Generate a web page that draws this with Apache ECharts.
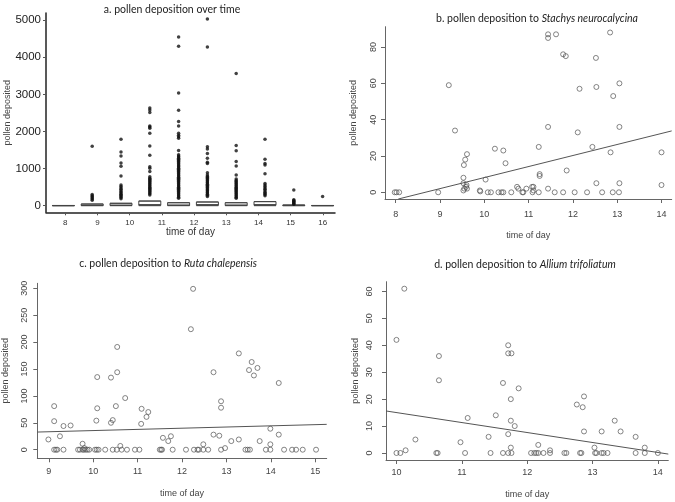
<!DOCTYPE html>
<html><head><meta charset="utf-8">
<script src="https://cdn.jsdelivr.net/npm/echarts@6/dist/echarts.min.js"></script>
<style>html,body{margin:0;padding:0;background:#fff}#c{width:675px;height:502px}</style>
</head><body><div id="c"></div>
<script>
// ---------- Panel a: boxplots over time ----------
const aBoxes = ['g1','g2','g3','g4','g5','g6','g7','g8','g9','g10'];
const aBoxStats = [
  [0,0,1,6,6],
  [0,4,12,45,45],
  [0,5,18,65,65],
  [0,10,30,125,125],
  [0,5,20,80,80],
  [0,10,30,100,100],
  [0,5,20,80,80],
  [0,10,30,110,110],
  [0,2,6,18,18],
  [0,0,1,6,6]
];
const aOutliers = [
  [],
  [150,180,210,240,270,300,1600],
  [190,220,250,280,310,340,370,400,440,480,520,560,800,1060,1150,1340,1450,1790],
  [290,320,350,380,410,440,470,500,530,560,590,620,650,680,710,740,780,920,1010,1050,1360,1610,1950,2090,2120,2150,2510,2580,2630],
  [200,230,260,290,320,350,380,410,440,470,500,530,560,590,620,650,680,710,740,770,800,830,860,890,920,950,980,1010,1040,1070,1100,1130,1160,1190,1220,1250,1280,1310,1340,1370,1490,1820,1860,1900,1950,2150,2270,2570,3040,4300,4550],
  [250,280,310,340,370,400,430,460,490,520,550,580,610,640,670,700,730,760,790,830,890,1140,1170,1280,1410,1530,1590,4280,5030],
  [200,230,260,290,320,350,380,410,440,470,500,530,560,590,620,650,680,720,830,1070,1190,1480,1620,3560],
  [270,300,330,360,400,440,480,520,560,600,860,1100,1140,1250,1790],
  [40,60,80,100,120,140,160,420],
  [250]
];
const aXTicks = [8,9,10,11,12,13,14,15,16];
const aYTicks = [0,1000,2000,3000,4000,5000];

// ---------- Panel b: Stachys neurocalycina ----------
const bPoints = [
  [7.98,0],[8.02,0],[8.08,0],[8.96,0],[9.2,59],[9.34,34],
  [9.53,8],[9.54,15],[9.57,18],[9.61,21],[9.53,5],[9.53,1],[9.55,2],[9.6,4],[9.61,2],[9.59,3],
  [9.9,1],[9.91,0.5],[10.03,7],[10.08,0],[10.15,0],[10.24,24],[10.32,0],[10.39,0],[10.43,0],
  [10.43,23],[10.48,16],[10.61,0],[10.74,3],[10.77,2],[10.86,0],[10.88,0],[10.95,2],
  [11.08,3],[11.11,3],[11.11,1],[11.09,0],[11.23,0],[11.23,25],[11.25,10],[11.25,9],
  [11.44,87],[11.44,85],[11.44,36],[11.44,2],[11.59,0],[11.62,87],[11.78,76],[11.84,75],
  [11.78,0],[11.86,12],[12.04,0],[12.11,33],[12.15,57],[12.32,0],[12.44,25],[12.52,74],
  [12.53,58],[12.53,5],[12.66,0],[12.84,88],[12.85,22],[12.9,0],[12.91,53],[13.05,60],
  [13.05,36],[13.05,5],[13.04,0],[14.0,22],[14.0,4]
];
const bFitX = [8.06, 14.23];
const bFitY = [-3.7, 33.8];
const bXTicks = [8,9,10,11,12,13,14];
const bYTicks = [0,20,40,60,80];

// ---------- Panel c: Ruta chalepensis ----------
const cPoints = [
  [8.99,19],[9.12,81],[9.12,53],[9.12,0],[9.16,0],[9.19,0],[9.25,25],[9.33,44],[9.33,0],[9.49,45],
  [9.66,0],[9.7,0],[9.76,0],[9.79,0],[9.83,0],[9.87,0],[9.91,0],[9.76,11],[9.8,3],
  [10.04,0],[10.08,0],[10.12,0],[10.09,135],[10.09,77],[10.07,54],[10.27,0],[10.4,134],[10.4,50],
  [10.44,55],[10.44,0],[10.51,81],[10.54,191],[10.54,144],[10.53,0],[10.64,0],[10.76,0],[10.61,7],
  [10.72,96],[10.94,0],[11.04,0],[11.08,48],[11.09,76],[11.2,61],[11.24,70],[11.5,0],[11.53,0],
  [11.55,0],[11.57,22],[11.69,16],[11.75,25],[11.79,0],[12.09,0],[12.2,224],[12.25,299],[12.27,0],
  [12.35,0],[12.38,0],[12.48,0],[12.59,0],[12.48,10],[12.71,144],[12.71,28],[12.84,26],[12.88,90],
  [12.88,78],[12.88,0],[12.97,3],[13.11,16],[13.28,179],[13.28,19],[13.43,0],[13.48,0],[13.53,0],
  [13.51,148],[13.57,163],[13.62,138],[13.7,152],[13.75,16],[13.89,0],[13.99,39],[13.99,10],[13.99,0],
  [14.18,124],[14.18,28],[14.3,0],[14.48,0],[14.57,0],[14.72,0],[15.02,0]
];
const cFitX = [8.74, 15.26];
const cFitY = [32.8, 47.1];
const cXTicks = [9,10,11,12,13,14,15];
const cYTicks = [0,50,100,150,200,250,300];

// ---------- Panel d: Allium trifoliatum ----------
const dPoints = [
  [10.0,42],[10.0,0],[10.06,0],[10.12,61],[10.14,1],[10.29,5],[10.61,0],[10.63,0],[10.65,36],[10.65,27],
  [10.98,4],[11.05,0],[11.09,13],[11.41,6],[11.44,0],[11.52,14],[11.63,26],[11.63,0],[11.71,40],[11.71,37],
  [11.76,37],[11.71,7],[11.71,0],[11.76,0],[11.75,20],[11.75,12],[11.75,2],[11.81,10],[11.87,24],
  [12.06,0],[12.11,0],[12.14,0],[12.17,0],[12.17,3],[12.25,0],[12.35,1],[12.35,0],[12.57,0],[12.6,0],
  [12.76,18],[12.85,17],[12.87,21],[12.87,8],[12.81,0],[12.83,0],[13.03,2],[13.04,0],[13.06,0],
  [13.14,8],[13.14,0],[13.17,0],[13.23,0],[13.34,12],[13.43,8],[13.66,6],[13.66,0],[13.8,2],[13.8,0],[14.0,0]
];
const dFitX = [9.84, 14.16];
const dFitY = [15.6, -0.4];
const dXTicks = [10,11,12,13,14];
const dYTicks = [0,10,20,30,40,50,60];

// ---------- build ----------
const LAB = 'Liberation Sans';
const TIT = 'Lato';
const TFS = 10.5;

function rAxisX(gi, min, max, ticks, margin, nameGap) {
  return {type:'value', gridIndex:gi, min:min, max:max,
    axisLine:{show:true, onZero:false, lineStyle:{color:'#666', width:1}},
    axisTick:{show:true, length:4, customValues:ticks, lineStyle:{color:'#666'}},
    axisLabel:{customValues:ticks, margin:margin, color:'#444', fontSize:9, fontFamily:LAB},
    splitLine:{show:false},
    name:'time of day', nameLocation:'middle', nameGap:nameGap,
    nameTextStyle:{color:'#444', fontSize:9, fontFamily:LAB}};
}
function rAxisY(gi, min, max, ticks, margin, nameGap) {
  return {type:'value', gridIndex:gi, min:min, max:max,
    axisLine:{show:true, onZero:false, lineStyle:{color:'#666', width:1}},
    axisTick:{show:true, length:4, customValues:ticks, lineStyle:{color:'#666'}},
    axisLabel:{customValues:ticks, margin:margin, rotate:90, color:'#444', fontSize:9, fontFamily:LAB},
    splitLine:{show:false},
    name:'pollen deposited', nameLocation:'middle', nameGap:nameGap,
    nameTextStyle:{color:'#444', fontSize:9, fontFamily:LAB}};
}
function scatterSeries(xi, yi, pts) {
  return {type:'scatter', xAxisIndex:xi, yAxisIndex:yi, data:pts, symbol:'circle', symbolSize:5,
    itemStyle:{color:'rgba(255,255,255,0)', borderColor:'#555', borderWidth:0.9}, silent:true, z:3};
}
function fitSeries(xi, yi, xs, ys) {
  return {type:'line', xAxisIndex:xi, yAxisIndex:yi, data:xs.map((x,i)=>[x, ys[i]]), symbol:'none',
    lineStyle:{color:'#555', width:1}, silent:true, z:2};
}
function richTitle(a, b, x, y) {
  return {text:'{n|' + a + '}{i|' + b + '}', left:x, top:y, textAlign:'center',
    textStyle:{rich:{
      n:{fontFamily:TIT, fontSize:TFS, fontWeight:'normal', color:'#222'},
      i:{fontFamily:TIT, fontSize:TFS, fontWeight:'normal', fontStyle:'italic', color:'#222'}}}};
}

const outlierPts = [];
aOutliers.forEach((arr, i) => arr.forEach(v => outlierPts.push([i, v])));

const option = {
  animation:false,
  backgroundColor:'#fff',
  title:[
    {text:'a. pollen deposition over time', left:167, top:-1, textAlign:'center',
      textStyle:{fontFamily:TIT, fontWeight:'normal', fontSize:TFS, color:'#222'}},
    richTitle('b. pollen deposition to ', 'Stachys neurocalycina', 532, 8),
    richTitle('c. pollen deposition to ', 'Ruta chalepensis', 163, 253),
    richTitle('d. pollen deposition to ', 'Allium trifoliatum', 520, 254)
  ],
  grid:[
    {left:46, top:13, width:289, height:199.3},
    {left:49, top:13, width:288, height:199.3},
    {left:385, top:26.7, width:286.7, height:172.3},
    {left:37.3, top:283.3, width:289.4, height:175},
    {left:386, top:281.7, width:282.3, height:178.3}
  ],
  xAxis:[
    {type:'value', gridIndex:0, min:7.4, max:16.38,
      axisLine:{show:true, onZero:false, lineStyle:{color:'#222', width:1.5}},
      axisTick:{show:true, length:3, customValues:aXTicks, lineStyle:{color:'#555'}},
      axisLabel:{customValues:aXTicks, margin:6, color:'#333', fontSize:8, fontFamily:LAB},
      splitLine:{show:false},
      name:'time of day', nameLocation:'middle', nameGap:9,
      nameTextStyle:{color:'#333', fontSize:10, fontFamily:LAB}},
    {type:'category', gridIndex:1, data:aBoxes, show:false, boundaryGap:true},
    rAxisX(2, 7.76, 14.23, bXTicks, 11, 32),
    rAxisX(3, 8.74, 15.26, cXTicks, 9, 31),
    rAxisX(4, 9.84, 14.16, dXTicks, 8, 30)
  ],
  yAxis:[
    {type:'value', gridIndex:0, min:-178, max:5194,
      axisLine:{show:true, onZero:false, lineStyle:{color:'#222', width:1.5}},
      axisTick:{show:true, length:3, customValues:aYTicks, lineStyle:{color:'#555'}},
      axisLabel:{customValues:aYTicks, margin:5, color:'#222', fontSize:11.5, fontFamily:LAB,
        formatter:(v)=>String(v)},
      splitLine:{show:false},
      name:'pollen deposited', nameLocation:'middle', nameGap:33,
      nameTextStyle:{color:'#444', fontSize:9, fontFamily:LAB}},
    {type:'value', gridIndex:1, min:-178, max:5194, show:false, splitLine:{show:false}},
    rAxisY(2, -3.7, 91.2, bYTicks, 7, 27),
    rAxisY(3, -16, 309.3, cYTicks, 8, 27),
    rAxisY(4, -2.6, 63.6, dYTicks, 12, 26)
  ],
  series:[
    {type:'boxplot', xAxisIndex:1, yAxisIndex:1, data:aBoxStats, boxWidth:[22,22], silent:true,
      itemStyle:{color:'#fff', borderColor:'#444', borderWidth:1}},
    {type:'scatter', xAxisIndex:1, yAxisIndex:1, data:outlierPts, symbol:'circle', symbolSize:3.5,
      itemStyle:{color:'#111'}, silent:true, z:3},
    scatterSeries(2, 2, bPoints), fitSeries(2, 2, bFitX, bFitY),
    scatterSeries(3, 3, cPoints), fitSeries(3, 3, cFitX, cFitY),
    scatterSeries(4, 4, dPoints), fitSeries(4, 4, dFitX, dFitY)
  ]
};
echarts.init(document.getElementById('c'), null, {renderer:'canvas'}).setOption(option);
</script>
</body></html>
